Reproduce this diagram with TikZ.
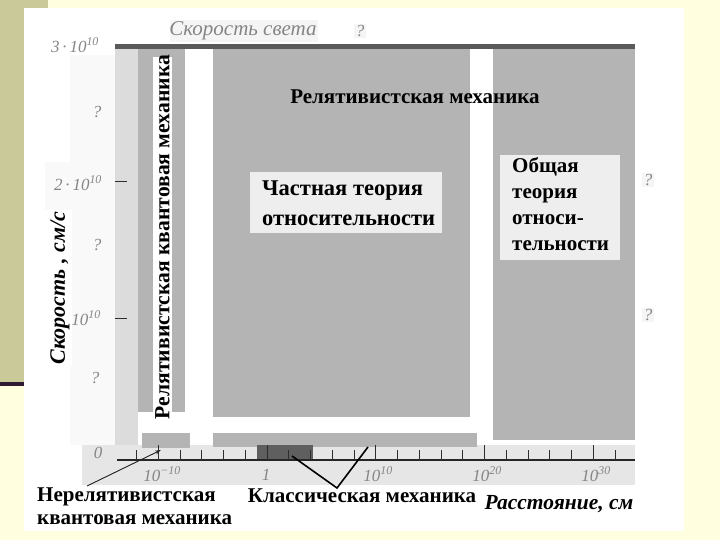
\documentclass[tikz,border=0pt]{standalone}
\usepackage{fontspec}
\setmainfont{Liberation Serif}
\usetikzlibrary{arrows.meta}
\definecolor{bgyellow}{HTML}{FFFFE0}
\definecolor{olivebar}{HTML}{C9C99A}
\definecolor{darkline}{HTML}{2E1A33}
\definecolor{midgray}{HTML}{B4B4B4}
\definecolor{lightbox}{HTML}{EEEEEE}
\definecolor{bandgray}{HTML}{E6E6E6}
\definecolor{speck}{HTML}{DCDCDC}
\definecolor{topbar}{HTML}{5A5A5A}
\definecolor{darkbox}{HTML}{5F5F5F}
\definecolor{labgray}{HTML}{858585}
\tikzset{
  bigtext/.style={font=\bfseries\fontsize{21}{26}\selectfont, text=black, inner sep=0pt},
  axlab/.style={font=\itshape\fontsize{17}{20}\selectfont, text=labgray, inner sep=0pt},
  qmark/.style={font=\itshape\fontsize{17}{20}\selectfont, text=labgray, fill=gray!8, inner sep=1.5pt},
  tickln/.style={line width=1pt, draw=gray!35!black},
}
\begin{document}
\begin{tikzpicture}[x=1pt,y=-1pt]
\useasboundingbox (0,0) rectangle (720,540);
% slide background
\fill[bgyellow] (0,0) rectangle (720,540);
\fill[olivebar] (0,0) rectangle (48,382);
\fill[darkline] (0,382) rectangle (48,386);
\fill[white] (24,8) rectangle (684,531);
% label backgrounds
\fill[gray!5] (70,55) rectangle (115,445);
\fill[gray!5] (45,162) rectangle (70,210);
\fill[gray!8] (170,20) rectangle (318,42);
% bands
\fill[speck] (115,49) rectangle (138,460);
\fill[bandgray] (82,445) rectangle (635,485);
\fill[midgray] (138,49) rectangle (185,412);
\fill[white] (153,57) rectangle (172,417);
\fill[midgray] (213,49) rectangle (470,417);
\fill[midgray] (493,49) rectangle (635,440);
\fill[midgray] (142,433) rectangle (190,448);
\fill[midgray] (213,433) rectangle (477,447);
\fill[darkbox] (257,445) rectangle (313,460);
\fill[topbar] (115,44) rectangle (635,49);
% axis
\draw[line width=1.2pt, draw=gray!30!black] (117,460) -- (635,460);
\foreach \i in {-6,...,16} {
  \pgfmathsetmacro{\xx}{267+21.75*\i}
  \pgfmathsetmacro{\hh}{ifthenelse(mod(\i+10,5)==0,15,10)}
  \draw[tickln] (\xx,460) -- (\xx,460-\hh);
}
\draw[tickln] (115,182) -- (127,182);
\draw[tickln] (115,318) -- (127,318);
% light boxes
\fill[lightbox] (250,172) rectangle (442,233);
\fill[lightbox] (500,155) rectangle (620,260);
% axis labels
\node[axlab, font=\itshape\fontsize{21}{24}\selectfont] (c) at (243,31) {Скорость света};
\node[qmark] (q0) at (360,31) {?};
\node[axlab] (v3) at (75,45) {3\,·\,10\textsuperscript{10}};
\node[axlab] (q1) at (97,112) {?};
\node[axlab] (v2) at (78,183) {2\,·\,10\textsuperscript{10}};
\node[axlab] (q2) at (97,245) {?};
\node[axlab] (v1) at (86,318) {10\textsuperscript{10}};
\node[axlab] (q3) at (95,378) {?};
\node[qmark] (q4) at (648,180) {?};
\node[qmark] (q5) at (648,315) {?};
\node[axlab] (x0) at (98,453) {0};
\node[axlab] (xm10) at (162,474) {10\textsuperscript{−10}};
\node[axlab] (x1) at (266,475) {1};
\node[axlab] (x10) at (378,474) {10\textsuperscript{10}};
\node[axlab] (x20) at (487,474) {10\textsuperscript{20}};
\node[axlab] (x30) at (596,474) {10\textsuperscript{30}};
% main labels
\node[bigtext] (rm) at (415,97) {Релятивистская механика};
\node[bigtext, font=\bfseries\fontsize{22.5}{30}\selectfont, anchor=west, align=left] (sto) at (262,203) {Частная теория\\относительности};
\node[bigtext, anchor=north west, align=left] (gtr) at (512,157) {Общая\\теория\\относи-\\тельности};
\node[bigtext, font=\bfseries\fontsize{21.6}{26}\selectfont, rotate=90] (rqm) at (162.5,237) {Релятивистская квантовая механика};
\node[bigtext, font=\bfseries\itshape\fontsize{22}{26}\selectfont, rotate=90, fill=white, inner sep=2pt] (vel) at (60,288) {Скорость , см/с};
\node[bigtext, anchor=north west, align=left, font=\bfseries\fontsize{21}{23}\selectfont] (nrqm) at (37,488) {Нерелятивистская\\квантовая механика};
\node[bigtext] (cm) at (362,496) {Классическая механика};
\node[bigtext, font=\bfseries\itshape\fontsize{21.5}{26}\selectfont] (dist) at (559,504) {Расстояние, см};
% connectors
\coordinate (arrS) at (87,486);
\coordinate (arrE) at (161,450);
\draw[-{Stealth[length=6pt,width=4pt]}, line width=0.9pt, draw=gray!30!black, fill=gray!30!black] (arrS) -- (arrE);
\coordinate (vapex) at (337,488);
\coordinate (vleft) at (292,456);
\coordinate (vright) at (368,447);
\draw[line width=1.6pt] (vleft) -- (vapex) -- (vright);
\end{tikzpicture}
\end{document}
